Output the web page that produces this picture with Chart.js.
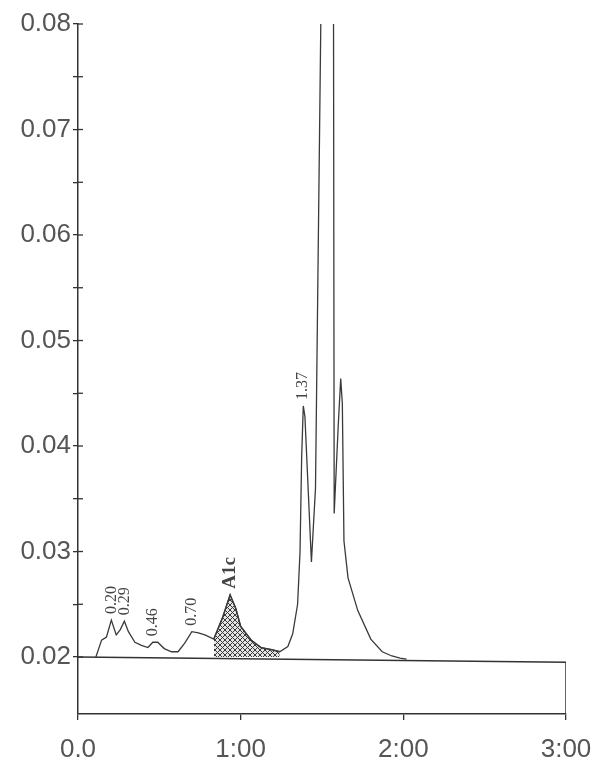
<!DOCTYPE html>
<html>
<head>
<meta charset="utf-8">
<script src="https://cdn.jsdelivr.net/npm/chart.js@4/dist/chart.umd.min.js"></script>
<style>
  html, body { margin: 0; padding: 0; background: #fff; }
  #wrap { width: 593px; height: 766px; }
</style>
</head>
<body>
<div id="wrap"><canvas id="myChart"></canvas></div>
<script>
// trace (time in minutes, absorbance)
const times = [0.11, 0.145, 0.175, 0.205, 0.235, 0.26, 0.285, 0.31, 0.35, 0.39,
  0.43, 0.46, 0.49, 0.53, 0.575, 0.615, 0.655, 0.70, 0.74, 0.78,
  0.835, 0.89, 0.935, 0.97, 1.00, 1.065, 1.125, 1.19, 1.24, 1.29,
  1.32, 1.35, 1.365, 1.375, 1.385, 1.395, 1.435, 1.46, 1.50, 1.57,
  1.575, 1.60, 1.615, 1.625, 1.635, 1.66, 1.72, 1.80, 1.87, 1.93,
  1.98, 2.02];
const absorbance = [0.0200, 0.0216, 0.0219, 0.0235, 0.0221, 0.0226, 0.0234, 0.0224, 0.0214, 0.0211,
  0.0209, 0.0214, 0.0214, 0.0208, 0.0205, 0.0205, 0.0213, 0.0224, 0.0223, 0.0221,
  0.0217, 0.0238, 0.0259, 0.0246, 0.0229, 0.0216, 0.0209, 0.0207, 0.0205, 0.0210,
  0.0222, 0.0250, 0.0300, 0.0390, 0.0438, 0.0428, 0.0290, 0.0360, 0.0900, 0.0900,
  0.0336, 0.0420, 0.0464, 0.0440, 0.0310, 0.0275, 0.0244, 0.0217, 0.0205, 0.0201,
  0.0199, 0.0198];

// baseline and the box edge on the right
const baseTimes = [0, 3, 3];
const baseValues = [0.0200, 0.0195, 0.0146];

// shaded A1c window
const a1cFrom = 0.835;
const a1cTo = 1.24;

const peakNames = ['0.20', '0.29', '0.46', '0.70', 'A1c', '1.37'];
const peakTimes = [0.205, 0.285, 0.46, 0.70, 0.935, 1.385];

const xTicks = [0, 1, 2, 3];
const xTickLabels = ['0.0', '1:00', '2:00', '3:00'];
const yTicks = [0.02, 0.025, 0.03, 0.035, 0.04, 0.045, 0.05, 0.055, 0.06, 0.065, 0.07, 0.075, 0.08];
const yTickLabels = ['0.02', '', '0.03', '', '0.04', '', '0.05', '', '0.06', '', '0.07', '', '0.08'];

const trace = times.map((t, i) => ({x: t, y: absorbance[i]}));
const a1c = trace.filter(p => p.x >= a1cFrom && p.x <= a1cTo);
const base = baseTimes.map((t, i) => ({x: t, y: baseValues[i]}));

const canvas = document.getElementById('myChart');
const ctx = canvas.getContext('2d');

function hatch() {
  const c = document.createElement('canvas');
  c.width = 5; c.height = 5;
  const g = c.getContext('2d');
  g.fillStyle = '#e4e4e4';
  g.fillRect(0, 0, 5, 5);
  g.strokeStyle = '#3a3a3a';
  g.lineWidth = 1;
  g.beginPath();
  g.moveTo(0, 0); g.lineTo(5, 5);
  g.moveTo(5, 0); g.lineTo(0, 5);
  g.stroke();
  return ctx.createPattern(c, 'repeat');
}

function valueAt(t) {
  for (let i = 1; i < times.length; i++) {
    if (times[i] >= t) {
      const f = (t - times[i - 1]) / (times[i] - times[i - 1]);
      return absorbance[i - 1] + f * (absorbance[i] - absorbance[i - 1]);
    }
  }
  return absorbance[absorbance.length - 1];
}

const extras = {
  id: 'extras',
  afterDraw(chart) {
    const c = chart.ctx;
    const xs = chart.scales.x, ys = chart.scales.y;
    c.save();
    // ticks crossing into the plot on the y axis
    c.strokeStyle = '#333';
    c.lineWidth = 1.3;
    const x0 = xs.getPixelForValue(0);
    ys.ticks.forEach(tk => {
      const py = ys.getPixelForValue(tk.value);
      c.beginPath();
      c.moveTo(x0, py);
      c.lineTo(x0 + 5, py);
      c.stroke();
    });
    // peak labels
    c.fillStyle = '#444';
    c.textAlign = 'left';
    c.textBaseline = 'middle';
    peakNames.forEach((name, i) => {
      const px = xs.getPixelForValue(peakTimes[i]);
      const py = ys.getPixelForValue(valueAt(peakTimes[i])) - 6;
      c.font = name === 'A1c' ? 'bold 19px "Liberation Serif"' : '16px "Liberation Serif"';
      c.save();
      c.translate(px, py);
      c.rotate(-Math.PI / 2);
      c.fillText(name, 0, 0);
      c.restore();
    });
    c.restore();
  }
};

new Chart(canvas, {
  type: 'line',
  data: {
    datasets: [
      {
        data: trace,
        borderColor: '#3a3a3a',
        borderWidth: 1.3,
        pointRadius: 0,
        tension: 0,
        fill: false
      },
      {
        data: a1c,
        borderColor: '#333',
        borderWidth: 1.3,
        pointRadius: 0,
        tension: 0,
        fill: {value: 0.02},
        backgroundColor: hatch()
      },
      {
        data: base,
        borderColor: '#333',
        borderWidth: 1.5,
        pointRadius: 0,
        tension: 0,
        fill: false
      }
    ]
  },
  options: {
    responsive: true,
    maintainAspectRatio: false,
    animation: false,
    layout: {padding: {top: 24, right: 0, left: 0, bottom: 0}},
    plugins: {legend: {display: false}, tooltip: {enabled: false}},
    scales: {
      x: {
        type: 'linear',
        min: 0,
        max: 3,
        afterBuildTicks: s => { s.ticks = xTicks.map(v => ({value: v})); },
        afterFit: s => { s.height = 52; s.paddingRight = 27; },
        ticks: {
          callback: (v, i) => xTickLabels[i],
          color: '#555',
          font: {family: 'Liberation Sans', size: 26},
          padding: 14,
          maxRotation: 0
        },
        grid: {drawOnChartArea: false, tickLength: 6, color: '#333', lineWidth: 1.3},
        border: {color: '#333', width: 1.5}
      },
      y: {
        min: 0.0146,
        max: 0.08,
        afterBuildTicks: s => { s.ticks = yTicks.map(v => ({value: v})); },
        afterFit: s => { s.width = 78; },
        ticks: {
          callback: (v, i) => yTickLabels[i],
          color: '#555',
          font: {family: 'Liberation Sans', size: 26},
          padding: 2
        },
        grid: {drawOnChartArea: false, tickLength: 5, color: '#333', lineWidth: 1.3},
        border: {color: '#333', width: 1.5}
      }
    }
  },
  plugins: [extras]
});
</script>
</body>
</html>
